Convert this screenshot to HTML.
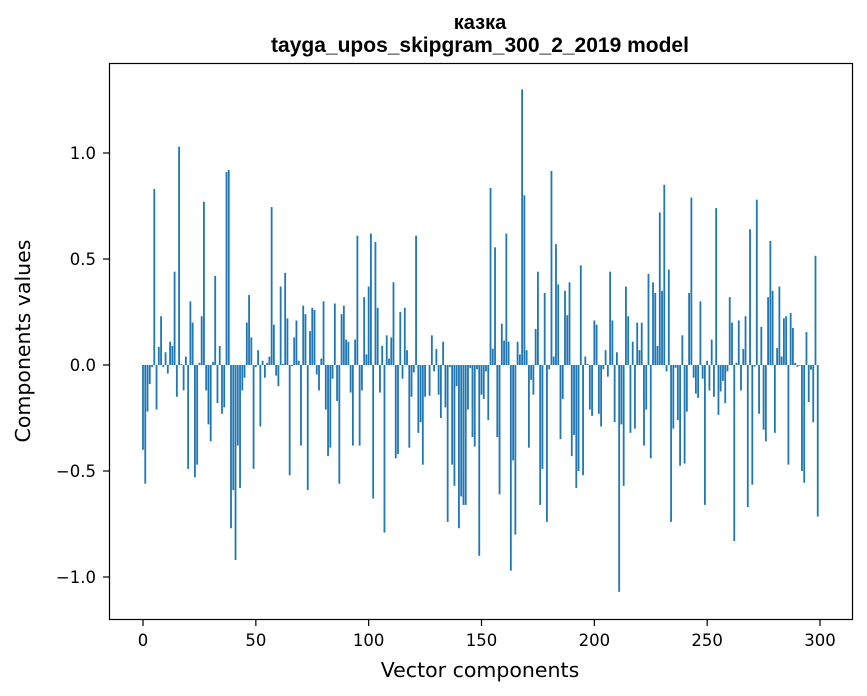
<!DOCTYPE html>
<html><head><meta charset="utf-8"><style>
html,body{margin:0;padding:0;background:#fff;}
svg{display:block;font-family:"DejaVu Sans","Liberation Sans","Noto Sans CJK SC",sans-serif;}
.ttl{font-family:"Liberation Sans","DejaVu Sans",sans-serif;font-size:21px;font-weight:bold;}
</style></head><body>
<svg id="chart" width="867" height="696" viewBox="0 0 867 696" xmlns="http://www.w3.org/2000/svg">
<rect width="867" height="696" fill="#fff"/>
<text class="ttl" x="480" y="29" text-anchor="middle" style="font-size:20px">казка</text>
<text class="ttl" x="480" y="52" text-anchor="middle">tayga_upos_skipgram_300_2_2019 model</text>
<g id="bars"></g>
<rect x="109.5" y="63.5" width="743" height="556" fill="none" stroke="#000" stroke-width="1.2"/>
<g id="xticks"></g>
<g id="yticks"></g>
<text x="480" y="677" text-anchor="middle" font-size="20.5">Vector components</text>
<text x="0" y="0" transform="translate(30,341) rotate(-90)" text-anchor="middle" font-size="20.5">Components values</text>
</svg>
<script>
const values = [
-0.40,-0.56,-0.22,-0.09,-0.01,0.83,-0.21,0.085,0.23,-0.01,
0.06,-0.04,0.11,0.09,0.44,-0.15,1.03,0.005,-0.12,0.04,
-0.49,0.30,0.20,-0.53,-0.47,0.01,0.23,0.77,-0.12,-0.28,
-0.36,0.015,0.42,-0.18,0.09,-0.23,-0.20,0.91,0.92,-0.77,
-0.59,-0.92,-0.38,-0.58,-0.12,-0.06,0.20,0.33,0.13,-0.49,
-0.01,0.07,-0.29,0.02,-0.06,0.01,0.04,0.745,0.19,-0.05,
-0.10,0.37,0.005,0.435,0.22,-0.52,-0.005,0.13,0.21,0.02,
-0.38,0.28,0.24,-0.59,0.16,0.27,0.26,-0.045,-0.12,0.03,
0.30,-0.21,-0.43,-0.39,-0.065,0.29,-0.17,-0.56,0.24,0.28,
0.12,0.11,-0.13,-0.38,0.12,0.61,-0.38,-0.12,0.32,0.05,
0.37,0.62,-0.63,0.58,0.27,-0.13,0.09,-0.79,0.14,0.03,
0.13,0.39,-0.44,-0.42,0.25,-0.065,0.27,0.07,-0.39,-0.15,
-0.035,0.61,-0.32,-0.27,-0.47,-0.15,0.0,-0.145,0.14,-0.03,
0.075,-0.14,-0.25,0.11,-0.20,-0.74,-0.01,-0.47,-0.57,-0.10,
-0.77,-0.62,-0.66,-0.66,-0.21,-0.015,-0.34,-0.385,-0.02,-0.90,
-0.14,-0.16,-0.03,-0.26,0.835,0.077,0.555,-0.34,-0.61,0.195,
0.115,0.62,0.11,-0.97,-0.45,-0.80,0.11,0.05,1.30,0.80,
0.07,-0.39,-0.07,-0.14,0.17,0.44,-0.66,-0.49,0.34,-0.74,
-0.02,0.915,0.04,0.57,0.38,-0.35,-0.16,0.35,0.235,0.39,
-0.43,-0.33,-0.58,-0.50,0.47,-0.52,0.04,0.005,-0.21,-0.24,
0.21,0.19,-0.23,-0.29,-0.02,0.07,-0.055,0.44,0.21,-0.27,
0.06,-1.07,-0.28,-0.57,0.37,0.23,-0.32,0.11,-0.30,0.20,
0.07,0.20,-0.38,-0.21,0.43,-0.44,0.39,0.34,0.09,0.72,
0.35,0.85,-0.03,0.45,-0.74,-0.30,-0.013,-0.26,-0.475,0.14,
-0.465,-0.22,0.34,0.79,-0.06,-0.135,-0.155,0.30,-0.065,-0.66,
0.02,-0.12,0.12,-0.15,0.74,-0.235,-0.125,-0.075,-0.18,-0.03,
0.32,0.20,-0.83,0.01,0.21,-0.12,0.075,0.23,-0.67,0.64,
-0.565,-0.008,0.78,-0.23,0.18,-0.305,-0.36,0.32,0.585,0.35,
-0.32,0.08,0.37,0.04,0.22,0.23,-0.47,0.245,0.175,0.01,
-0.008,-0.003,-0.50,-0.555,0.155,-0.175,-0.022,-0.27,0.515,-0.715
];
const xTicks = [0,50,100,150,200,250,300];
const yTicks = [-1.0,-0.5,0.0,0.5,1.0];
const yTickLabels = ["\u22121.0","\u22120.5","0.0","0.5","1.0"];

const NS = "http://www.w3.org/2000/svg";
function xs(v){ return 143 + v * (820 - 143) / 300; }
function ys(v){ return 365 - v * 212; }

const barsG = document.getElementById('bars');
values.forEach(function(v, i){
  const r = document.createElementNS(NS, 'rect');
  const w = 0.8 * (xs(1) - xs(0));
  const y0 = ys(Math.max(v, 0)), y1 = ys(Math.min(v, 0));
  r.setAttribute('x', xs(i) - w / 2);
  r.setAttribute('y', y0);
  r.setAttribute('width', w);
  r.setAttribute('height', Math.max(y1 - y0, 0.3));
  r.setAttribute('fill', '#1f77b4');
  
  
  barsG.appendChild(r);
});

const xg = document.getElementById('xticks');
xTicks.forEach(function(t){
  const l = document.createElementNS(NS, 'line');
  l.setAttribute('x1', xs(t)); l.setAttribute('x2', xs(t));
  l.setAttribute('y1', 620); l.setAttribute('y2', 626);
  l.setAttribute('stroke', '#000'); l.setAttribute('stroke-width', '1.2');
  
  
  xg.appendChild(l);
  const tx = document.createElementNS(NS, 'text');
  tx.setAttribute('x', xs(t)); tx.setAttribute('y', 646);
  tx.setAttribute('text-anchor', 'middle'); tx.setAttribute('font-size', '16.5');
  tx.textContent = String(t);
  
  
  xg.appendChild(tx);
});

const yg = document.getElementById('yticks');
yTicks.forEach(function(t, i){
  const l = document.createElementNS(NS, 'line');
  l.setAttribute('x1', 103); l.setAttribute('x2', 109);
  l.setAttribute('y1', ys(t)); l.setAttribute('y2', ys(t));
  l.setAttribute('stroke', '#000'); l.setAttribute('stroke-width', '1.2');
  
  
  yg.appendChild(l);
  const tx = document.createElementNS(NS, 'text');
  tx.setAttribute('x', 96); tx.setAttribute('y', ys(t) + 6);
  tx.setAttribute('text-anchor', 'end'); tx.setAttribute('font-size', '16.5');
  tx.textContent = yTickLabels[i];
  
  
  yg.appendChild(tx);
});
</script>
</body></html>
